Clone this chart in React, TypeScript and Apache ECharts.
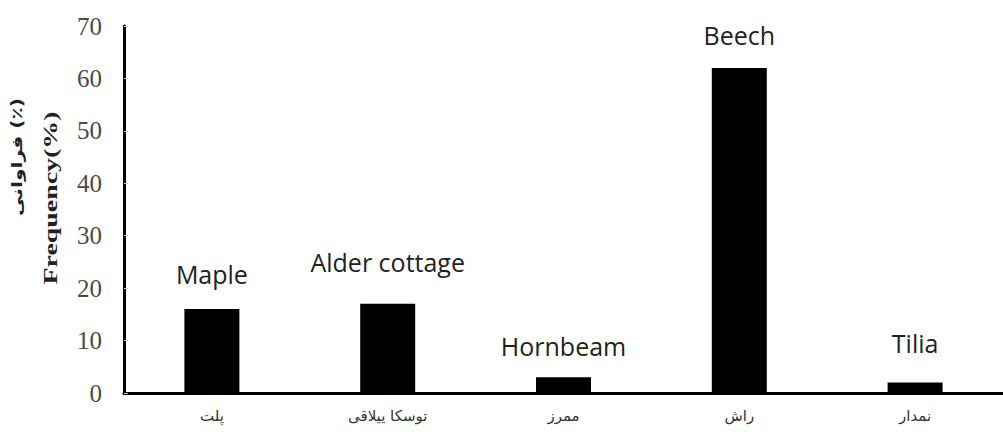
import React, { useEffect, useRef } from "react";
import * as echarts from "echarts";

const categories = ["پلت", "توسکا ییلاقی", "ممرز", "راش", "نمدار"];
const englishNames = ["Maple", "Alder cottage", "Hornbeam", "Beech", "Tilia"];
const frequency = [16, 17, 3, 62, 2];
const labelGaps = [23, 29, 19, 20, 27];
const yTitle = "Frequency(%)";
const yTitleFa = "فراوانی (٪)";

export default function App() {
  const ref = useRef<HTMLDivElement>(null);
  useEffect(() => {
    if (!ref.current) return;
    const chart = echarts.init(ref.current, undefined, { renderer: "svg" });
    chart.setOption({
      animation: false,
      backgroundColor: "#ffffff",
      grid: { left: 124, right: -11, top: 26, bottom: 48, containLabel: false },
      xAxis: {
        type: "category",
        data: categories,
        axisLine: { show: true, lineStyle: { color: "#000", width: 3 } },
        axisTick: { show: false },
        axisLabel: {
          color: "#333",
          fontFamily: "DejaVu Sans",
          fontSize: 15,
          margin: 15,
        },
      },
      yAxis: {
        type: "value",
        min: 0,
        max: 70,
        interval: 10,
        axisLine: { show: true, lineStyle: { color: "#000", width: 3 } },
        axisTick: { show: true, inside: true, length: 4, lineStyle: { color: "#ccc" } },
        splitLine: { show: false },
        axisLabel: {
          color: "#4a4a4a",
          fontFamily: "Liberation Serif",
          fontSize: 25,
          margin: 22,
        },
      },
      graphic: [
        {
          type: "text",
          x: 51,
          y: 198,
          rotation: Math.PI / 2,
          scaleX: 1.55,
          style: {
            text: yTitle,
            fill: "#222",
            font: "bold 18px 'Liberation Serif'",
            textAlign: "center",
            textVerticalAlign: "middle",
          },
        },
        {
          type: "text",
          x: 17,
          y: 157,
          rotation: Math.PI / 2,
          scaleX: 1.35,
          style: {
            text: yTitleFa,
            fill: "#222",
            font: "bold 15px 'DejaVu Sans'",
            textAlign: "center",
            textVerticalAlign: "middle",
          },
        },
      ],
      series: [
        {
          type: "bar",
          barWidth: 55,
          itemStyle: { color: "#000" },
          data: frequency.map((v, i) => ({
            value: v,
            label: { distance: labelGaps[i] },
          })),
          label: {
            show: true,
            position: "top",
            color: "#222",
            fontFamily: "Open Sans",
            fontSize: 25,
            formatter: (p: any) => englishNames[p.dataIndex],
          },
        },
      ],
    });
    return () => chart.dispose();
  }, []);
  return (
    <div
      ref={ref}
      style={{ position: "fixed", left: 0, top: 0, width: 1003, height: 441 }}
    />
  );
}
